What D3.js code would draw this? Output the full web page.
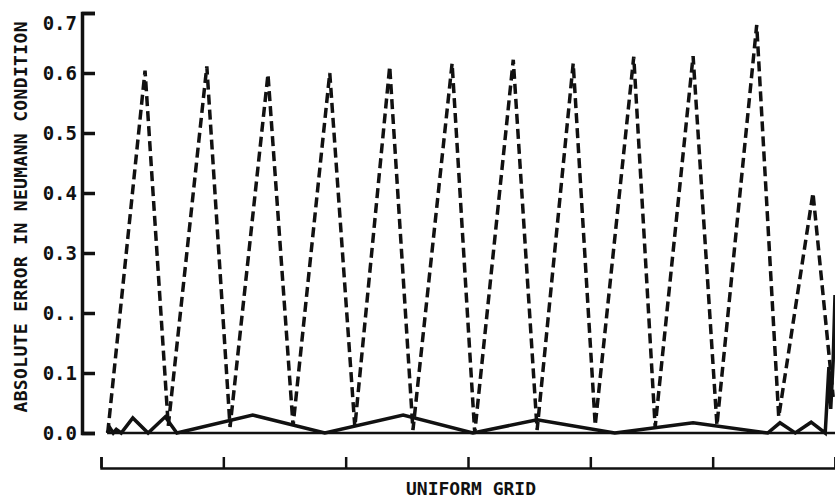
<!DOCTYPE html>
<html>
<head>
<meta charset="utf-8">
<script src="https://d3js.org/d3.v7.min.js"></script>
<style>
  body { margin: 0; background: #fff; }
  text { font-family: "DejaVu Sans Mono", monospace; font-weight: bold; fill: #111; }
</style>
</head>
<body>
<script>
// data (x in grid units 0..120, y = absolute error)
var dashedX = [1.1, 7.2, 11.0, 17.3, 21.1, 27.3, 31.4, 37.4, 41.5, 47.2, 51.0, 57.4, 61.1,
               67.4, 71.3, 77.2, 80.8, 87.1, 90.6, 96.8, 100.7, 107.2, 110.8, 116.4, 119.7];
var dashedY = [0.0, 0.604, 0.012, 0.611, 0.01, 0.598, 0.012, 0.600, 0.01, 0.611, 0.005, 0.616, 0.0,
               0.622, 0.005, 0.616, 0.013, 0.627, 0.01, 0.628, 0.013, 0.68, 0.027, 0.40, 0.06];

var solidX = [1.0, 1.5, 2.0, 2.5, 3.3, 5.2, 7.7, 10.5, 12.4, 24.8, 36.6, 49.4, 60.8,
              71.3, 84.0, 96.8, 109.0, 111.0, 113.5, 116.1, 118.4, 119.0, 119.3, 119.7, 120.0];
var solidY = [0.0, 0.008, 0.0, 0.006, 0.0, 0.025, 0.0, 0.027, 0.0, 0.030, 0.0, 0.030, 0.0,
              0.022, 0.0, 0.017, 0.0, 0.017, 0.0, 0.018, 0.0, 0.11, 0.04, 0.12, 0.23];

var yTicks = [0, 0.1, 0.2, 0.3, 0.4, 0.5, 0.6, 0.7];
var yTickLabels = ["0.0", "0.1", "0..", "0.3", "0.4", "0.5", "0.6", "0.7"];
var xTicks = [0, 20, 40, 60, 80, 100, 120];

var yTitle = "ABSOLUTE ERROR IN NEUMANN CONDITION";
var xTitle = "UNIFORM GRID";

var width = 835,
    height = 499;

var svg = d3.select("body").append("svg")
    .attr("width", width)
    .attr("height", height);

var x = d3.scaleLinear().domain([0, 120]).range([101, 835]);
var y = d3.scaleLinear().domain([0, 0.7]).range([433, 13]);

// y axis, ticks pointing into the plot
var yAxis = svg.append("g")
    .attr("transform", "translate(82,0)")
    .call(d3.axisLeft(y)
        .tickValues(yTicks)
        .tickSize(-13)
        .tickSizeOuter(-13)
        .tickPadding(5)
        .tickFormat(function(d, i){ return yTickLabels[i]; }));
yAxis.select(".domain").attr("stroke", "#111").attr("stroke-width", 3.5);
yAxis.selectAll(".tick line").attr("stroke", "#111").attr("stroke-width", 3.5);
yAxis.selectAll(".tick text")
    .attr("font-family", "DejaVu Sans Mono")
    .attr("font-weight", "bold")
    .attr("font-size", 19)
    .attr("fill", "#111")
    .attr("dy", function(d){ return d == 0.7 ? "0.85em" : "0.35em"; });

// bracket below the plot
var xAxis = svg.append("g")
    .attr("transform", "translate(0,468)")
    .call(d3.axisTop(x)
        .tickValues(xTicks)
        .tickSize(11)
        .tickSizeOuter(11)
        .tickFormat(""));
xAxis.select(".domain").attr("stroke", "#111").attr("stroke-width", 2.5);
xAxis.selectAll(".tick line").attr("stroke", "#111").attr("stroke-width", 2.5);

// zero line
svg.append("line")
    .attr("x1", x(1.0)).attr("x2", x(120))
    .attr("y1", y(0)).attr("y2", y(0))
    .attr("stroke", "#111")
    .attr("stroke-width", 2.5);

var line = d3.line()
    .x(function(d){ return x(d[0]); })
    .y(function(d){ return y(d[1]); });

svg.append("path")
    .datum(d3.zip(solidX, solidY))
    .attr("fill", "none")
    .attr("stroke", "#111")
    .attr("stroke-width", 3.5)
    .attr("d", line);

svg.append("path")
    .datum(d3.zip(dashedX, dashedY))
    .attr("fill", "none")
    .attr("stroke", "#111")
    .attr("stroke-width", 3.5)
    .attr("stroke-dasharray", "10,5")
    .attr("d", line);

// titles
svg.append("text")
    .attr("transform", "translate(27,217) rotate(-90)")
    .attr("text-anchor", "middle")
    .attr("font-size", 18)
    .attr("textLength", 391)
    .attr("lengthAdjust", "spacing")
    .text(yTitle);

svg.append("text")
    .attr("x", 471)
    .attr("y", 495)
    .attr("text-anchor", "middle")
    .attr("font-size", 18)
    .text(xTitle);
</script>
</body>
</html>
